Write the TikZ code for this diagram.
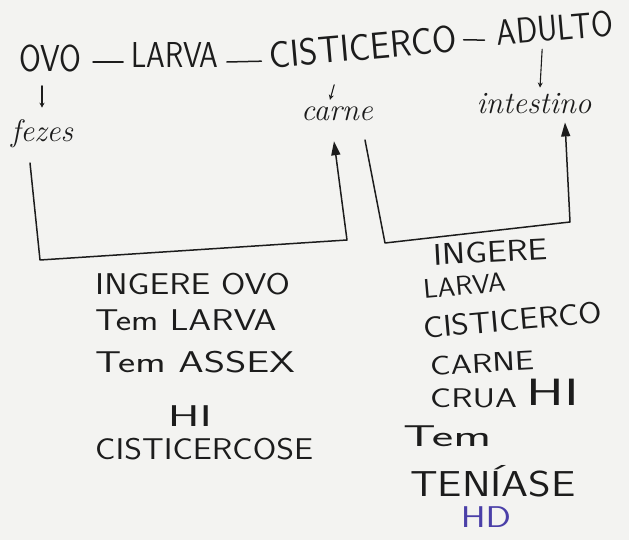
\documentclass[tikz,border=0pt]{standalone}
\usetikzlibrary{arrows.meta,calc}
\definecolor{paper}{HTML}{F3F3F1}
\definecolor{ink}{HTML}{1C1C1C}
\definecolor{hdblue}{HTML}{4A3FA8}
\newcommand{\hwtext}[3]{\scalebox{#1}[#2]{#3}}
\begin{document}
\begin{tikzpicture}[x=1pt,y=-1pt,
  word/.style={font=\sffamily\fontsize{30}{32}\selectfont, inner sep=0pt, text=ink},
  small/.style={font=\sffamily\fontsize{27}{29}\selectfont, inner sep=0pt, text=ink},
  hand/.style={font=\itshape\fontsize{31}{33}\selectfont, inner sep=0pt, text=ink},
  pen/.style={draw=ink, line width=1.5pt, line cap=round, line join=round},
  tick/.style={pen, line width=1.1pt, -{Stealth[length=5pt,width=5pt]}},
  upar/.style={pen, -{Triangle[length=14pt,width=9pt]}}]
\fill[paper] (0,0) rectangle (629,540);
\useasboundingbox (0,0) rectangle (629,540);
% top row
\node[word] (ovo) at (50,58) {\hwtext{1.05}{1.25}{OVO}};
\node[word] (larva) at (175,55) {\hwtext{1}{1.2}{LARVA}};
\node[word, rotate=5] (cist) at (363,47) {\hwtext{1.17}{1.25}{CISTICERCO}};
\node[word, rotate=5] (adulto) at (555,28) {\hwtext{1.05}{1.2}{ADULTO}};
\draw[pen] ($(ovo.east)+(12,4)$) -- ($(larva.west)+(-8,7)$);
\draw[pen] ($(larva.east)+(8,7)$) -- ($(cist.west)+(-8,6)$);
\draw[pen] ($(cist.east)+(7,1)$) -- ($(adulto.west)+(-12,7)$);
% lower labels
\node[hand] (fezes) at (42,134) {fezes};
\node[hand] (carne) at (337,114) {carne};
\node[hand] (intest) at (534,104) {intestino};
\draw[tick] ($(ovo.south)+(-8,14)$) -- ($(fezes.north)+(0,-12)$);
\draw[tick] ($(cist.south)+(-30,24)$) -- ($(carne.north)+(-7,-7)$);
\draw[tick] ($(adulto.south)+(-14,8)$) -- ($(intest.north)+(6,-6)$);
% brackets
\coordinate (l0) at (30,163);
\coordinate (l1) at (40,260);
\coordinate (l2) at (347,240);
\coordinate (r0) at (365,140);
\coordinate (r1) at (385,243);
\coordinate (r2) at (570,222);
\draw[upar] (l0) -- (l1) -- (l2) -- ($(carne.south)+(-3,20)$);
\draw[upar] (r0) -- (r1) -- (r2) -- ($(intest.south)+(31,8)$);
% left block
\node[word, anchor=west] (a1) at (95,284) {\hwtext{1.17}{1}{INGERE OVO}};
\node[word, anchor=west] (a2) at (95,320) {\hwtext{1.22}{1}{Tem LARVA}};
\node[word, anchor=west] (a3) at (95,362) {\hwtext{1.36}{1}{Tem ASSEX}};
\node[word] (a4) at (190,416) {\hwtext{1.6}{1}{HI}};
\node[word, anchor=west] (a5) at (95,449) {\hwtext{1.13}{1}{CISTICERCOSE}};
% right block
\node[word, anchor=west, rotate=3] (b1) at (433,255) {\hwtext{1.16}{1}{INGERE}};
\node[small, anchor=west, rotate=5] (b2) at (423,289) {\hwtext{1.05}{1}{LARVA}};
\node[word, anchor=west, rotate=5] (b3) at (423,328) {\hwtext{1.12}{1}{CISTICERCO}};
\node[small, anchor=west, rotate=3] (b4) at (430,366) {\hwtext{1.26}{1}{CARNE}};
\node[small, anchor=west] (b5) at (430,398) {\hwtext{1.3}{1}{CRUA}};
\node[font=\sffamily\fontsize{38}{40}\selectfont, inner sep=0pt, text=ink] (b6) at (553,392) {\hwtext{1.5}{1}{HI}};
\node[word, anchor=west] (b7) at (403,436) {\hwtext{1.7}{1}{Tem}};
\node[font=\sffamily\fontsize{36}{38}\selectfont, inner sep=0pt, text=ink, anchor=west] (b8) at (410,481) {\hwtext{1.2}{1}{TENÍASE}};
\node[font=\sffamily\fontsize{30}{32}\selectfont, inner sep=0pt, text=hdblue] (b9) at (486,517) {\hwtext{1.25}{1}{HD}};
\end{tikzpicture}
\end{document}
